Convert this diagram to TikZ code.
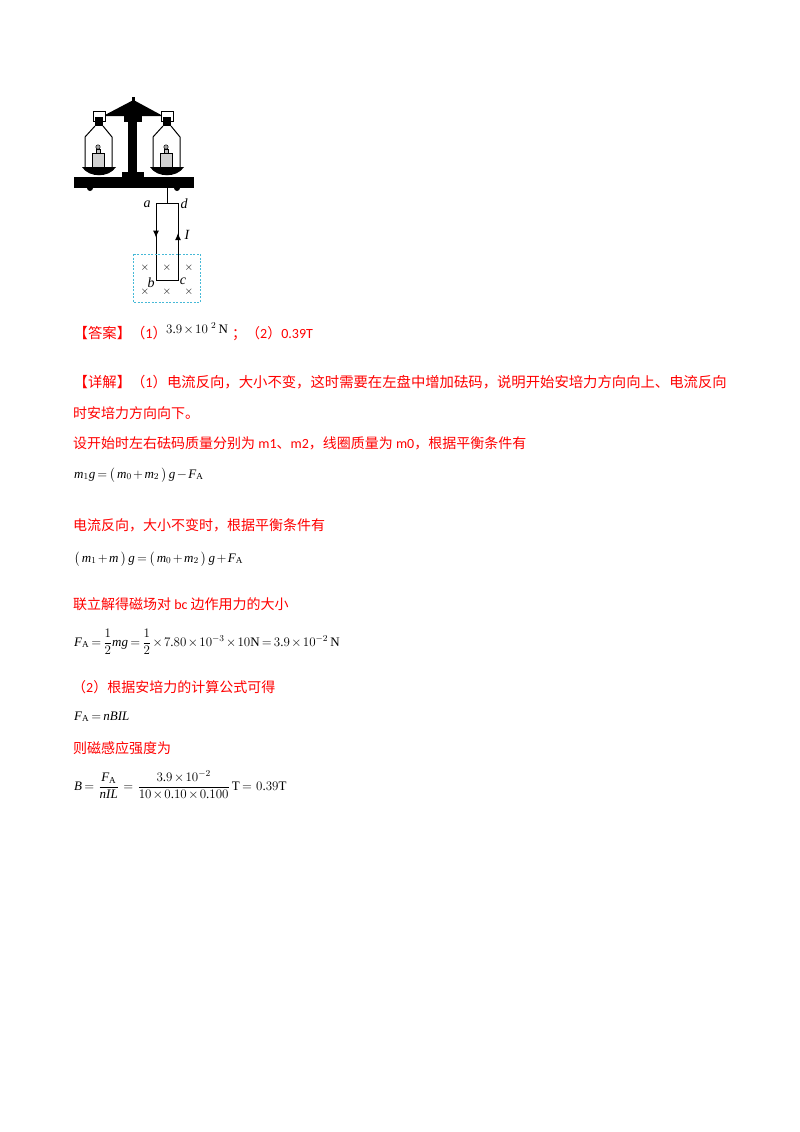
\documentclass[tikz,border=0pt]{standalone}
\usepackage{fix-cm}
\usepackage{amsmath}
\usepackage{fontspec}
\setmainfont{Liberation Serif}
\newfontfamily\cjk{Noto Sans CJK SC}
\newfontfamily\carl{Carlito}
\DeclareSymbolFont{letters}{\encodingdefault}{\rmdefault}{m}{it}
\DeclareMathSymbol{.}{\mathord}{operators}{`.}
\usetikzlibrary{calc,positioning,arrows.meta}
\definecolor{fieldblue}{RGB}{70,185,215}
\tikzset{
  zhline/.style={anchor=base west,inner sep=0pt,text=red,font=\cjk\fontsize{14}{17}\selectfont},
  zhwide/.style={zhline,font=\cjk\fontsize{14.35}{17}\selectfont},
  mathline/.style={anchor=base west,inner sep=0pt,text=black,font=\fontsize{13}{15}\selectfont,
    execute at begin node={\thickmuskip=3mu\medmuskip=2mu}},
  wirelabel/.style={inner sep=0pt,font=\itshape\fontsize{14}{16}\selectfont},
  fieldcross/.style={inner sep=0pt,font=\fontsize{11}{14}\selectfont}
}
\newcommand{\drawbottle}[1]{
  % bottle on a pan, parameter 1: x of its axis
  \draw[line width=1pt,fill=white] (#1-6,111) rectangle (#1+6,121);
  \fill (#1-4,117) -- (#1+4,117) -- (#1+4,126) -- (#1-4,126) -- cycle;
  \draw[line width=1pt] (#1-4,126) -- (#1-14,137) -- (#1-14,168);
  \draw[line width=1pt] (#1+4,126) -- (#1+13,137) -- (#1+13,168);
  \fill[black!18] (#1-7,153) rectangle (#1+5,168);
  \draw[line width=0.5pt] (#1-7,168) -- (#1-7,153) -- (#1+5,153) -- (#1+5,168);
  \draw[line width=0.5pt,fill=black!25] (#1-3,153) rectangle (#1+1,149);
  \draw[line width=0.5pt,fill=black!35] (#1-1,147) circle (2.2);
  \fill (#1-17,167) .. controls (#1-10,178) and (#1+10,178) .. (#1+17,167) -- cycle;
}
\begin{document}
\begin{tikzpicture}[x=1pt,y=-1pt]
  \useasboundingbox (0,0) rectangle (800,1132);
  % balance
  \fill (132,97) rectangle (135,101);
  \fill (133.5,100) -- (163,116) -- (103,116) -- cycle;
  \fill (124,116) rectangle (142,122);
  \fill (128,118) rectangle (137,173);
  \fill (122,172) rectangle (144,178);
  \fill (74,177) rectangle (194,188);
  \fill (90,188) circle (3);
  \fill (177,188) circle (3);
  \drawbottle{99}
  \drawbottle{167}
  % coil in the field
  \coordinate (top) at (167,203);
  \coordinate (a) at (156,203);
  \coordinate (b) at (156,280);
  \coordinate (c) at (178,280);
  \coordinate (d) at (178,203);
  \draw[line width=0.8pt] (167,188) -- (top);
  \draw[line width=1pt] (a) -- (b) -- (c) -- (d) -- cycle;
  \draw[-{Latex[length=7pt,width=6pt]},line width=1pt] (a) -- ($(a)!0.45!(b)$);
  \draw[-{Latex[length=7pt,width=6pt]},line width=1pt] (c) -- ($(c)!0.61!(d)$);
  \node[wirelabel] (la) at (147,204) {a};
  \node[wirelabel] (ld) at (184,204) {d};
  \node[wirelabel] (lI) at (187,235) {I};
  \node[wirelabel] (lb) at (151,283) {b};
  \node[wirelabel] (lc) at (183,281) {c};
  \draw[line width=1pt,color=fieldblue,dash pattern=on 2pt off 1.5pt] (133,254) rectangle (200,302);
  \foreach \px in {145,167,189}{
    \node[fieldcross] at (\px,268) {$\times$};
    \node[fieldcross] at (\px,292) {$\times$};
  }
  % answer
  \node[zhwide] (ans) at (73.5,338) {【答案】（{\carl 1}）};
  \node[mathline] (ansval) at (166,333) {$3.9\times 10^{\ 2}\,\mathrm{N}$};
  \node[zhline] (ansend) at (232,338) {；（{\carl 2}）{\carl 0.39T}};
  % explanation
  \node[zhwide] (l1) at (73.5,387) {【详解】（{\carl 1}）电流反向，大小不变，这时需要在左盘中增加砝码，说明开始安培力方向向上、电流反向};
  \node[zhline] (l2) at (73,418) {时安培力方向向下。};
  \node[zhline] (l3) at (73,448) {设开始时左右砝码质量分别为 {\carl m1}、{\carl m2}，线圈质量为 {\carl m0}，根据平衡条件有};
  \node[mathline] (e1) at (74,478) {$m_1 g=\bigl(\,m_0+m_2\,\bigr)\,g-F_{\mathrm{A}}$};
  \node[zhline] (l4) at (73,530) {电流反向，大小不变时，根据平衡条件有};
  \node[mathline] (e2) at (74,562) {$\bigl(\,m_1+m\,\bigr)\,g=\bigl(\,m_0+m_2\,\bigr)\,g+F_{\mathrm{A}}$};
  \node[zhline] (l5) at (73,609) {联立解得磁场对 {\carl bc} 边作用力的大小};
  \node[mathline] (e3) at (74,646) {$F_{\mathrm{A}}=\dfrac{1}{2}mg=\dfrac{1}{2}\times 7.80\times 10^{-3}\times 10\mathrm{N}=3.9\times 10^{-2}\,\mathrm{N}$};
  \node[zhline] (l6) at (72,692) {（{\carl 2}）根据安培力的计算公式可得};
  \node[mathline] (e4) at (74,720) {$F_{\mathrm{A}}=nBIL$};
  \node[zhline] (l7) at (73,753) {则磁感应强度为};
  \node[mathline] (e5) at (74,790) {$B=\,\dfrac{F_{\mathrm{A}}}{nIL}\,=\,\dfrac{3.9\times 10^{-2}}{10\times 0.10\times 0.100}\,\mathrm{T}=\,0.39\mathrm{T}$};
\end{tikzpicture}
\end{document}
